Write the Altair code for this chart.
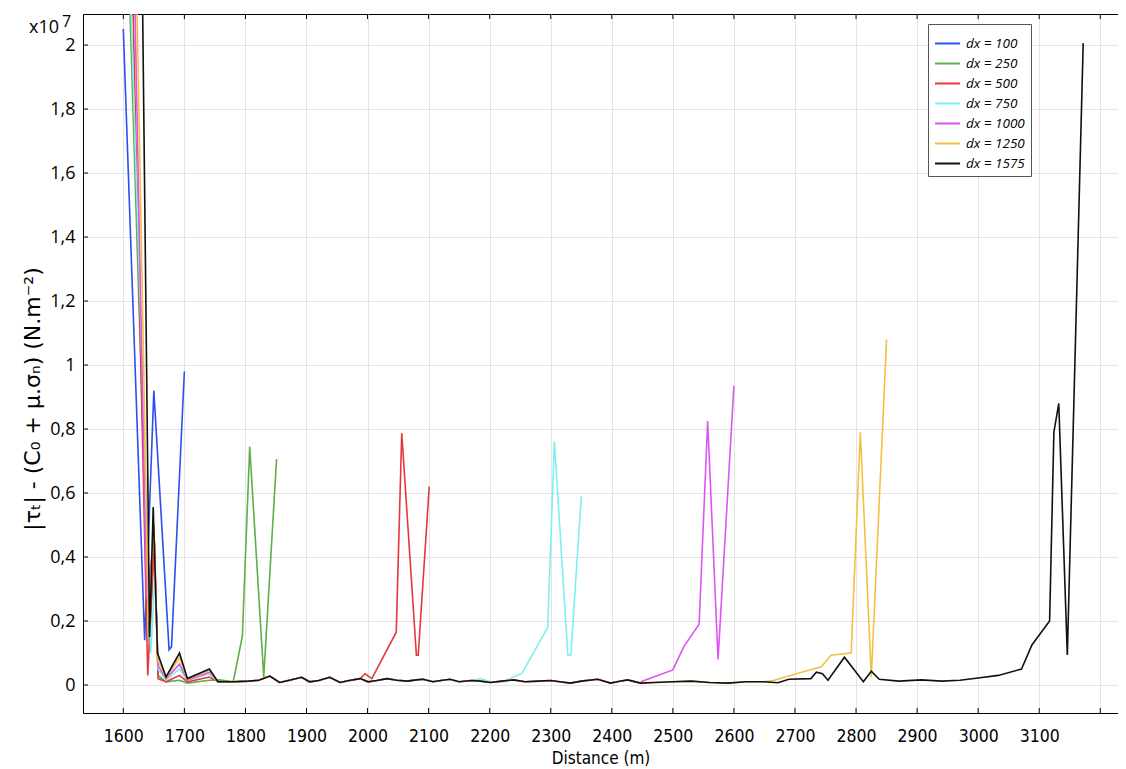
import altair as alt
import pandas as pd

series_names = ["dx = 100", "dx = 250", "dx = 500", "dx = 750", "dx = 1000", "dx = 1250", "dx = 1575"]
series_colors = ["#2b4ff0", "#5fae4a", "#e5383b", "#7ef0ef", "#dc55f2", "#f4c040", "#111111"]

# shared low-level wiggle of the curves (units of 1e7 N.m-2)
base_d = [1780, 1805, 1822, 1840, 1856, 1872, 1892, 1905, 1920, 1938, 1955, 1970, 1988, 2001,
          2015, 2032, 2048, 2065, 2080, 2091, 2107, 2120, 2135, 2150, 2170, 2185, 2201, 2220,
          2239, 2258, 2280, 2300, 2315, 2332, 2350, 2377, 2398, 2413, 2426, 2447, 2470, 2500,
          2530, 2560, 2590, 2620, 2650, 2672]
base_v = [0.010, 0.012, 0.015, 0.028, 0.008, 0.015, 0.024, 0.010, 0.014, 0.024, 0.008, 0.014,
          0.020, 0.010, 0.014, 0.020, 0.015, 0.012, 0.016, 0.018, 0.010, 0.014, 0.018, 0.010,
          0.014, 0.012, 0.008, 0.012, 0.016, 0.010, 0.012, 0.014, 0.010, 0.006, 0.012, 0.018,
          0.006, 0.012, 0.016, 0.006, 0.008, 0.010, 0.012, 0.008, 0.006, 0.010, 0.010, 0.007]

dx100_d = [1600, 1635, 1650, 1675, 1679, 1700]
dx100_v = [2.05, 0.14, 0.92, 0.11, 0.12, 0.98]

dx250_head_d = [1603, 1643, 1650, 1657, 1670, 1692, 1705, 1741, 1757]
dx250_head_v = [2.6, 0.11, 0.50, 0.03, 0.01, 0.015, 0.006, 0.015, 0.016]
dx250_tail_d = [1795, 1807, 1830, 1851]
dx250_tail_v = [0.153, 0.745, 0.025, 0.706]

dx500_head_d = [1608, 1640, 1651, 1657, 1670, 1692, 1705, 1741, 1755]
dx500_head_v = [2.8, 0.03, 0.45, 0.02, 0.01, 0.03, 0.01, 0.025, 0.01]
dx500_tail_d = [1996, 2007, 2047, 2056, 2080, 2083, 2101]
dx500_tail_v = [0.035, 0.02, 0.165, 0.787, 0.093, 0.093, 0.62]

dx750_head_d = [1605, 1645, 1652, 1657, 1670, 1692, 1705, 1741, 1755]
dx750_head_v = [2.6, 0.10, 0.35, 0.05, 0.015, 0.05, 0.015, 0.035, 0.01]
dx750_tail_d = [2185, 2201, 2222, 2253, 2295, 2306, 2328, 2333, 2350]
dx750_tail_v = [0.02, 0.01, 0.01, 0.037, 0.18, 0.76, 0.094, 0.094, 0.59]

dx1000_head_d = [1610, 1638, 1650, 1657, 1670, 1692, 1705, 1741, 1755]
dx1000_head_v = [3.0, 0.27, 0.45, 0.06, 0.02, 0.065, 0.015, 0.04, 0.01]
dx1000_tail_d = [2450, 2500, 2518, 2543, 2557, 2574, 2600]
dx1000_tail_v = [0.012, 0.047, 0.12, 0.19, 0.825, 0.08, 0.935]

dx1250_head_d = [1612, 1641, 1650, 1656, 1670, 1692, 1705, 1741, 1755]
dx1250_head_v = [3.2, 0.20, 0.50, 0.08, 0.022, 0.085, 0.018, 0.045, 0.01]
dx1250_tail_d = [2666, 2705, 2743, 2759, 2792, 2807, 2825, 2850]
dx1250_tail_v = [0.015, 0.037, 0.057, 0.093, 0.10, 0.79, 0.025, 1.08]

dx1575_head_d = [1615, 1643, 1649, 1656, 1670, 1692, 1705, 1741, 1755]
dx1575_head_v = [5.0, 0.15, 0.556, 0.10, 0.025, 0.10, 0.02, 0.05, 0.01]
dx1575_tail_d = [2690, 2726, 2735, 2745, 2754, 2781, 2812, 2825, 2838, 2870, 2907, 2940, 2970,
                 3000, 3033, 3071, 3088, 3117, 3124, 3132, 3146, 3172]
dx1575_tail_v = [0.018, 0.02, 0.04, 0.035, 0.015, 0.087, 0.01, 0.043, 0.018, 0.012, 0.016,
                 0.012, 0.015, 0.022, 0.03, 0.05, 0.125, 0.2, 0.79, 0.88, 0.094, 2.006]

x_ticks = list(range(1600, 3201, 100))
y_ticks = [0, 0.2, 0.4, 0.6, 0.8, 1.0, 1.2, 1.4, 1.6, 1.8, 2.0]
y_title = "|τₜ| - (C₀ + μ.σₙ) (N.m⁻²)"

X_DOMAIN = [1534, 3229]
Y_DOMAIN = [-0.0875, 2.097]
W, H = 1035, 699


def build(name, head_d, head_v, tail_d, tail_v):
    rows = [(d, v) for d, v in zip(head_d, head_v)]
    lo, hi = head_d[-1], tail_d[0]
    rows += [(d, v) for d, v in zip(base_d, base_v) if lo < d < hi]
    rows += [(d, v) for d, v in zip(tail_d, tail_v)]
    return [{"series": name, "d": d, "v": v} for d, v in rows]


records = [{"series": series_names[0], "d": d, "v": v} for d, v in zip(dx100_d, dx100_v)]
records += build(series_names[1], dx250_head_d, dx250_head_v, dx250_tail_d, dx250_tail_v)
records += build(series_names[2], dx500_head_d, dx500_head_v, dx500_tail_d, dx500_tail_v)
records += build(series_names[3], dx750_head_d, dx750_head_v, dx750_tail_d, dx750_tail_v)
records += build(series_names[4], dx1000_head_d, dx1000_head_v, dx1000_tail_d, dx1000_tail_v)
records += build(series_names[5], dx1250_head_d, dx1250_head_v, dx1250_tail_d, dx1250_tail_v)
records += build(series_names[6], dx1575_head_d, dx1575_head_v, dx1575_tail_d, dx1575_tail_v)
df = pd.DataFrame(records)
df["order"] = range(len(df))

xscale = alt.Scale(domain=X_DOMAIN, nice=False, zero=False)
yscale = alt.Scale(domain=Y_DOMAIN, nice=False, zero=False)

LABEL_FONT = "Open Sans"
NARROW = "Liberation Sans Narrow, DejaVu Sans Condensed, Open Sans"

x_axis = alt.Axis(values=x_ticks, title="Distance (m)", ticks=False,
                  labelExpr="datum.value >= 3200 ? '' : datum.label",
                  format="d", labelFont=NARROW, labelFontSize=17.5,
                  labelPadding=14, titleFont=NARROW, titleFontSize=17,
                  titleFontWeight="normal", titlePadding=6,
                  grid=True, gridColor="#e4e4e4", domainColor="#000")
y_axis = alt.Axis(values=y_ticks, ticks=False, title=None,
                  labelExpr="replace(format(datum.value, '.1~f'), '.', ',')",
                  labelFont=LABEL_FONT, labelFontSize=18, labelPadding=8,
                  grid=True, gridColor="#e4e4e4", domainColor="#000")

lines = alt.Chart(df).mark_line(strokeWidth=1.6, clip=True).encode(
    x=alt.X("d:Q", scale=xscale, axis=x_axis),
    y=alt.Y("v:Q", scale=yscale, axis=y_axis),
    color=alt.Color("series:N",
                    scale=alt.Scale(domain=series_names, range=series_colors),
                    legend=alt.Legend(title=None, orient="none", legendX=845, legendY=10,
                                      symbolType="stroke", symbolSize=625, symbolStrokeWidth=2,
                                      labelFont=LABEL_FONT, labelFontStyle="italic",
                                      labelFontSize=13.5, rowPadding=0, labelOffset=5,
                                      strokeColor="#555", fillColor="white", padding=6)),
    order="order:Q",
)

xt_df = pd.DataFrame({"d": x_ticks})
yt_df = pd.DataFrame({"v": y_ticks})

bottom_ticks = alt.Chart(xt_df).mark_rule(color="#000", strokeWidth=1).encode(
    x=alt.X("d:Q", scale=xscale, axis=x_axis), y=alt.value(H), y2=alt.value(H - 5))
top_ticks = alt.Chart(xt_df).mark_rule(color="#000", strokeWidth=1).encode(
    x=alt.X("d:Q", scale=xscale, axis=x_axis), y=alt.value(0), y2=alt.value(5))
left_ticks = alt.Chart(yt_df).mark_rule(color="#000", strokeWidth=1).encode(
    y=alt.Y("v:Q", scale=yscale, axis=y_axis), x=alt.value(0), x2=alt.value(5))

exp_df = pd.DataFrame({"base": ["x10"], "sup": ["7"], "ytitle": [y_title]})
exp_base = alt.Chart(exp_df).mark_text(align="left", baseline="alphabetic", fontSize=18,
                                       font=LABEL_FONT, color="#000").encode(
    text="base:N", x=alt.value(-54), y=alt.value(19))
exp_sup = alt.Chart(exp_df).mark_text(align="left", baseline="alphabetic", fontSize=16,
                                      font=LABEL_FONT, color="#000").encode(
    text="sup:N", x=alt.value(-21), y=alt.value(13))
ytitle_mark = alt.Chart(exp_df).mark_text(align="center", baseline="middle", fontSize=22,
                                          angle=270, font="DejaVu Sans", color="#000").encode(
    text="ytitle:N", x=alt.value(-50), y=alt.value(385))

chart = alt.layer(lines, bottom_ticks, top_ticks, left_ticks, exp_base, exp_sup,
                  ytitle_mark).properties(
    width=W, height=H,
    autosize=alt.AutoSizeParams(type="none"),
    padding={"left": 75, "top": 6, "right": 0, "bottom": 55},
    background="white",
).configure_view(stroke="#000", strokeWidth=1).configure_axis(
    labelColor="#000", titleColor="#000")

chart.save("out.html", embed_options={"renderer": "svg", "actions": False})
